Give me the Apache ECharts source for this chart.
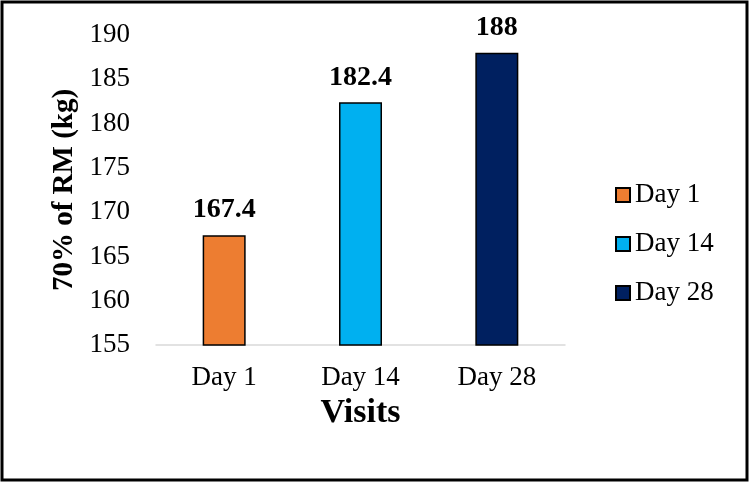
<!DOCTYPE html>
<html>
<head>
<meta charset="utf-8">
<script src="https://cdn.jsdelivr.net/npm/echarts@6/dist/echarts.min.js"></script>
<style>
html,body{margin:0;padding:0;background:#fff;}
#chart{width:750px;height:483px;}
</style>
</head>
<body>
<div id="chart"></div>
<script>
const categories = ['Day 1', 'Day 14', 'Day 28'];
const seriesNames = ['Day 1', 'Day 14', 'Day 28'];
const values = [167.4, 182.4, 188];
const colors = ['#ED7D31', '#00B0F0', '#002060'];
const yMin = 155, yMax = 190, yInterval = 5;

const font = '"Liberation Serif", "Times New Roman", serif';
const chart = echarts.init(document.getElementById('chart'));

const series = seriesNames.map((name, i) => ({
  name: name,
  type: 'bar',
  stack: 'all',
  barWidth: 43,
  data: categories.map((c, j) => (j === i ? values[i] : null)),
  itemStyle: { color: colors[i], borderColor: '#000', borderWidth: 1.5 },
  label: {
    show: true,
    position: 'top',
    distance: 11,
    fontFamily: font,
    fontWeight: 'bold',
    fontSize: 28,
    color: '#000',
    formatter: p => (p.value == null ? '' : String(p.value))
  }
}));

chart.setOption({
  animation: false,
  backgroundColor: '#fff',
  graphic: [{
    type: 'rect',
    shape: { x: 2, y: 2, width: 745, height: 478 },
    style: { fill: 'none', stroke: '#000', lineWidth: 3 },
    silent: true
  }],
  grid: { left: 156, right: 185, top: 35, bottom: 138 },
  legend: {
    orient: 'vertical',
    left: 610,
    top: 176,
    itemWidth: 14,
    itemHeight: 14,
    itemGap: 21,
    icon: 'rect',
    textStyle: { fontFamily: font, fontSize: 27, color: '#000', lineHeight: 28 },
    data: seriesNames
  },
  xAxis: {
    type: 'category',
    data: categories,
    name: 'Visits',
    nameLocation: 'middle',
    nameGap: 51,
    nameTextStyle: { fontFamily: font, fontWeight: 'bold', fontSize: 34, color: '#000' },
    axisLine: { lineStyle: { color: '#d9d9d9', width: 1.5 } },
    axisTick: { show: false },
    axisLabel: { fontFamily: font, fontSize: 27, color: '#000', margin: 19 }
  },
  yAxis: {
    type: 'value',
    min: yMin,
    max: yMax,
    interval: yInterval,
    name: '70% of RM (kg)',
    nameLocation: 'middle',
    nameGap: 71,
    nameTextStyle: { fontFamily: font, fontWeight: 'bold', fontSize: 29, color: '#000' },
    axisLine: { show: false },
    axisTick: { show: false },
    splitLine: { show: false },
    axisLabel: { fontFamily: font, fontSize: 27, color: '#000', margin: 26 }
  },
  series: series
});
</script>
</body>
</html>
